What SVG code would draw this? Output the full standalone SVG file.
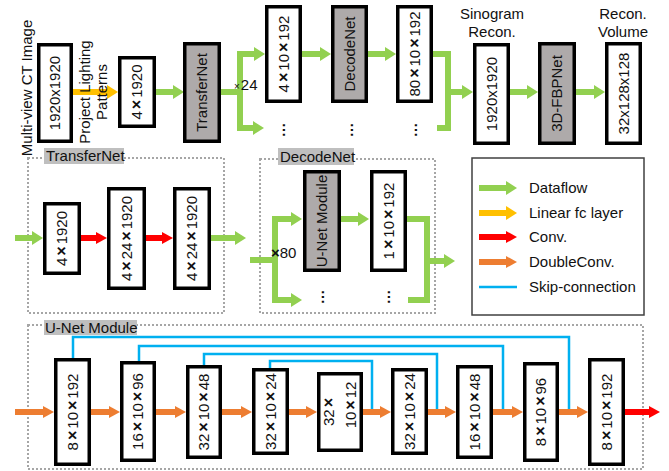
<svg xmlns="http://www.w3.org/2000/svg" width="669" height="471" viewBox="0 0 669 471">
  <style>
    .t { font-family: "Liberation Sans", Arial, sans-serif; font-size: 15px; fill: #111; text-anchor: middle; }
    .l { font-family: "Liberation Sans", Arial, sans-serif; font-size: 15px; fill: #111; }
    .x { font-weight: bold; font-size: 16px; }
    .box { fill: #fff; stroke: #000; stroke-width: 3.5; }
    .gbox { fill: #aeaaaa; stroke: #000; stroke-width: 3.5; }
    .frame { fill: none; stroke: #a6a6a6; stroke-width: 2; stroke-dasharray: 2 2; }
    .tag { fill: #bfbfbf; }
    .g { fill: none; stroke: #92d050; stroke-width: 6; stroke-linejoin: miter; }
    .y { fill: none; stroke: #ffc000; stroke-width: 6; }
    .r { fill: none; stroke: #ff0000; stroke-width: 6; }
    .o { fill: none; stroke: #ed7d31; stroke-width: 6; }
    .b { fill: none; stroke: #00b0f0; stroke-width: 2.5; }
    .dots { font-family: "Liberation Sans", Arial, sans-serif; font-size: 15px; font-weight: bold; fill: #111; text-anchor: middle; }
  </style>
  <defs>
    <marker id="hg" markerUnits="userSpaceOnUse" markerWidth="12" markerHeight="14" refX="0" refY="7" orient="auto"><path d="M0,0 L11,7 L0,14 z" fill="#92d050"/></marker>
    <marker id="hy" markerUnits="userSpaceOnUse" markerWidth="12" markerHeight="14" refX="0" refY="7" orient="auto"><path d="M0,0 L11,7 L0,14 z" fill="#ffc000"/></marker>
    <marker id="hr" markerUnits="userSpaceOnUse" markerWidth="12" markerHeight="14" refX="0" refY="7" orient="auto"><path d="M0,1 L11,7 L0,13 z" fill="#ff0000"/></marker>
    <marker id="ho" markerUnits="userSpaceOnUse" markerWidth="12" markerHeight="14" refX="0" refY="7" orient="auto"><path d="M0,1 L11,7 L0,13 z" fill="#ed7d31"/></marker>
  </defs>

  <!-- group frames -->
  <g id="frames">
    <rect class="frame" x="28" y="158" width="196" height="155"/>
    <rect class="frame" x="260" y="159" width="175" height="154"/>
    <rect class="frame" x="28" y="325" width="615" height="144"/>
    <rect class="tag" x="44" y="148" width="80" height="16"/>
    <text class="l" x="46" y="161">TransferNet</text>
    <rect class="tag" x="278" y="148" width="76" height="17"/>
    <text class="l" x="280" y="162">DecodeNet</text>
    <rect class="tag" x="44" y="320" width="93" height="15"/>
    <text class="l" x="45" y="333">U-Net Module</text>
  </g>

  <!-- connectors -->
  <g id="connectors">
    <path class="y" d="M73,92 H107" marker-end="url(#hy)"/>
    <path class="g" d="M156,92 H173" marker-end="url(#hg)"/>
    <path class="g" d="M221,92 H240"/>
    <path class="g" d="M240,51 V131"/>
    <path class="g" d="M240,54 H254" marker-end="url(#hg)"/>
    <path class="g" d="M240,128 H253" marker-end="url(#hg)"/>
    <path class="g" d="M302,54 H320" marker-end="url(#hg)"/>
    <path class="g" d="M368,54 H385" marker-end="url(#hg)"/>
    <path class="g" d="M433,54 H448 V128 H437"/>
    <path class="g" d="M448,92 H462" marker-end="url(#hg)"/>
    <path class="g" d="M510,92 H527" marker-end="url(#hg)"/>
    <path class="g" d="M576,92 H594" marker-end="url(#hg)"/>

    <path class="g" d="M15,238 H32" marker-end="url(#hg)"/>
    <path class="r" d="M81,238 H96" marker-end="url(#hr)"/>
    <path class="r" d="M146,238 H162" marker-end="url(#hr)"/>
    <path class="g" d="M211,238 H235" marker-end="url(#hg)"/>
    <path class="g" d="M250,260 H275"/>
    <path class="g" d="M275,216 V303"/>
    <path class="g" d="M275,219 H291" marker-end="url(#hg)"/>
    <path class="g" d="M275,300 H291" marker-end="url(#hg)"/>
    <path class="g" d="M341,219 H358" marker-end="url(#hg)"/>
    <path class="g" d="M407,219 H427 V300 H408"/>
    <path class="g" d="M427,261 H444" marker-end="url(#hg)"/>

    <path class="b" d="M73,358 V337 H569 V412"/>
    <path class="b" d="M139,361 V346 H503 V412"/>
    <path class="b" d="M204,365 V354 H437 V412"/>
    <path class="b" d="M270,368 V361 H372 V412"/>

    <path class="o" d="M15,412 H43" marker-end="url(#ho)"/>
    <path class="o" d="M91,412 H109" marker-end="url(#ho)"/>
    <path class="o" d="M156,412 H175" marker-end="url(#ho)"/>
    <path class="o" d="M222,412 H241" marker-end="url(#ho)"/>
    <path class="o" d="M289,412 H306" marker-end="url(#ho)"/>
    <path class="o" d="M363,412 H380" marker-end="url(#ho)"/>
    <path class="o" d="M428,412 H445" marker-end="url(#ho)"/>
    <path class="o" d="M493,412 H512" marker-end="url(#ho)"/>
    <path class="o" d="M559,412 H577" marker-end="url(#ho)"/>
    <path class="r" d="M625,412 H649" marker-end="url(#hr)"/>
  </g>

  <!-- free labels -->
  <g id="labels">
    <text class="t" transform="translate(27,88) rotate(-90)" dy="5">Multi-view CT Image</text>
    <text class="t" transform="translate(85,92) rotate(-90)" dy="5">Project Lighting</text>
    <text class="t" transform="translate(102,92) rotate(-90)" dy="5">Patterns</text>
    <text class="t" x="492" y="19">Sinogram</text>
    <text class="t" x="492" y="37">Recon.</text>
    <text class="t" x="623" y="19">Recon.</text>
    <text class="t" x="623" y="37">Volume</text>
    <text class="l" x="234" y="90"><tspan font-size="10">×</tspan><tspan dx="1">24</tspan></text>
    <text class="l" x="271" y="258"><tspan font-weight="bold">×</tspan>80</text>
  </g>

  <!-- top pipeline -->
  <g id="ct-image">
    <rect class="box" x="38.75" y="44.75" width="32.5" height="96.5"/>
    <text class="t" transform="translate(55,93) rotate(-90)" dy="5">1920x1920</text>
  </g>
  <g id="patterns">
    <rect class="box" x="119.75" y="57.75" width="34.5" height="68.5"/>
    <text class="t" transform="translate(137,92) rotate(-90)" dy="5">4<tspan class="x" dx="2">×</tspan><tspan dx="2">1920</tspan></text>
  </g>
  <g id="transfernet">
    <rect class="gbox" x="184.75" y="43.75" width="34.5" height="97.5"/>
    <text class="t" transform="translate(202,92.5) rotate(-90)" dy="5">TransferNet</text>
  </g>
  <g id="feat-4x10x192">
    <rect class="box" x="266.75" y="6.75" width="33.5" height="94.5"/>
    <text class="t" transform="translate(283.5,54) rotate(-90)" dy="5">4<tspan class="x" dx="2">×</tspan><tspan dx="2">10</tspan><tspan class="x" dx="2">×</tspan><tspan dx="2">192</tspan></text>
  </g>
  <g id="decodenet">
    <rect class="gbox" x="332.75" y="6.75" width="33.5" height="94.5"/>
    <text class="t" transform="translate(349.5,54) rotate(-90)" dy="5">DecodeNet</text>
  </g>
  <g id="feat-80x10x192">
    <rect class="box" x="397.75" y="6.75" width="33.5" height="94.5"/>
    <text class="t" transform="translate(414.5,54) rotate(-90)" dy="5">80<tspan class="x" dx="2">×</tspan><tspan dx="2">10</tspan><tspan class="x" dx="2">×</tspan><tspan dx="2">192</tspan></text>
  </g>
  <g id="top-dots">
    <text class="dots" transform="translate(285,130) rotate(-90)">…</text>
    <text class="dots" transform="translate(353,130) rotate(-90)">…</text>
    <text class="dots" transform="translate(417,130) rotate(-90)">…</text>
  </g>
  <g id="sinogram">
    <rect class="box" x="474.75" y="44.75" width="33.5" height="98.5"/>
    <text class="t" transform="translate(491.5,94) rotate(-90)" dy="5">1920x1920</text>
  </g>
  <g id="fbpnet">
    <rect class="gbox" x="539.75" y="43.75" width="34.5" height="99.5"/>
    <text class="t" transform="translate(557,93.5) rotate(-90)" dy="5">3D-FBPNet</text>
  </g>
  <g id="volume">
    <rect class="box" x="606.75" y="43.75" width="33.5" height="99.5"/>
    <text class="t" transform="translate(623.5,93.5) rotate(-90)" dy="5">32x128x128</text>
  </g>

  <!-- TransferNet detail -->
  <g id="tn-in">
    <rect class="box" x="44.75" y="203.75" width="34.5" height="69.5"/>
    <text class="t" transform="translate(62,238.5) rotate(-90)" dy="5">4<tspan class="x" dx="2">×</tspan><tspan dx="2">1920</tspan></text>
  </g>
  <g id="tn-conv1">
    <rect class="box" x="108.75" y="188.75" width="35.5" height="99.5"/>
    <text class="t" transform="translate(126.5,238.5) rotate(-90)" dy="5">4<tspan class="x" dx="2">×</tspan><tspan dx="2">24</tspan><tspan class="x" dx="2">×</tspan><tspan dx="2">1920</tspan></text>
  </g>
  <g id="tn-conv2">
    <rect class="box" x="174.75" y="188.75" width="34.5" height="99.5"/>
    <text class="t" transform="translate(192,238.5) rotate(-90)" dy="5">4<tspan class="x" dx="2">×</tspan><tspan dx="2">24</tspan><tspan class="x" dx="2">×</tspan><tspan dx="2">1920</tspan></text>
  </g>

  <!-- DecodeNet detail -->
  <g id="dn-unet">
    <rect class="gbox" x="304.75" y="171.75" width="34.5" height="98.5"/>
    <text class="t" transform="translate(322,221) rotate(-90)" dy="5">U-Net Module</text>
  </g>
  <g id="dn-out">
    <rect class="box" x="371.75" y="171.75" width="33.5" height="98.5"/>
    <text class="t" transform="translate(388.5,221) rotate(-90)" dy="5">1<tspan class="x" dx="2">×</tspan><tspan dx="2">10</tspan><tspan class="x" dx="2">×</tspan><tspan dx="2">192</tspan></text>
  </g>
  <g id="mid-dots">
    <text class="dots" transform="translate(324,297) rotate(-90)">…</text>
    <text class="dots" transform="translate(390,297) rotate(-90)">…</text>
  </g>

  <!-- legend -->
  <g id="legend">
    <rect x="472" y="158" width="172" height="157" fill="#fff" stroke="#404040" stroke-width="1.5"/>
    <path class="g" d="M479,188 H506" marker-end="url(#hg)"/>
    <path class="y" d="M479,213 H506" marker-end="url(#hy)"/>
    <path class="r" d="M479,237 H506" marker-end="url(#hr)"/>
    <path class="o" d="M479,262 H506" marker-end="url(#ho)"/>
    <path class="b" d="M479,287 H517"/>
    <text class="l" x="529" y="193">Dataflow</text>
    <text class="l" x="529" y="218">Linear fc layer</text>
    <text class="l" x="529" y="242">Conv.</text>
    <text class="l" x="529" y="267">DoubleConv.</text>
    <text class="l" x="529" y="292">Skip-connection</text>
  </g>

  <!-- U-Net detail -->
  <g id="u-enc1">
    <rect class="box" x="55.75" y="359.75" width="33.5" height="104.5"/>
    <text class="t" transform="translate(72.5,412) rotate(-90)" dy="5">8<tspan class="x" dx="2">×</tspan><tspan dx="2">10</tspan><tspan class="x" dx="2">×</tspan><tspan dx="2">192</tspan></text>
  </g>
  <g id="u-enc2">
    <rect class="box" x="121.75" y="362.75" width="32.5" height="97.5"/>
    <text class="t" transform="translate(138,411.5) rotate(-90)" dy="5">16<tspan class="x" dx="2">×</tspan><tspan dx="2">10</tspan><tspan class="x" dx="2">×</tspan><tspan dx="2">96</tspan></text>
  </g>
  <g id="u-enc3">
    <rect class="box" x="187.75" y="366.75" width="32.5" height="90.5"/>
    <text class="t" transform="translate(204,412) rotate(-90)" dy="5">32<tspan class="x" dx="2">×</tspan><tspan dx="2">10</tspan><tspan class="x" dx="2">×</tspan><tspan dx="2">48</tspan></text>
  </g>
  <g id="u-enc4">
    <rect class="box" x="253.75" y="369.75" width="33.5" height="83.5"/>
    <text class="t" transform="translate(270.5,411.5) rotate(-90)" dy="5">32<tspan class="x" dx="2">×</tspan><tspan dx="2">10</tspan><tspan class="x" dx="2">×</tspan><tspan dx="2">24</tspan></text>
  </g>
  <g id="u-bottleneck">
    <rect class="box" x="318.75" y="373.75" width="42.5" height="76.5"/>
    <text class="t" transform="translate(329,412) rotate(-90)" dy="5">32<tspan class="x" dx="2">×</tspan></text>
    <text class="t" transform="translate(351,405) rotate(-90)" dy="5">10<tspan class="x" dx="2">×</tspan><tspan dx="2">12</tspan></text>
  </g>
  <g id="u-dec4">
    <rect class="box" x="392.75" y="369.75" width="33.5" height="83.5"/>
    <text class="t" transform="translate(409.5,411.5) rotate(-90)" dy="5">32<tspan class="x" dx="2">×</tspan><tspan dx="2">10</tspan><tspan class="x" dx="2">×</tspan><tspan dx="2">24</tspan></text>
  </g>
  <g id="u-dec3">
    <rect class="box" x="457.75" y="366.75" width="33.5" height="90.5"/>
    <text class="t" transform="translate(474.5,412) rotate(-90)" dy="5">16<tspan class="x" dx="2">×</tspan><tspan dx="2">10</tspan><tspan class="x" dx="2">×</tspan><tspan dx="2">48</tspan></text>
  </g>
  <g id="u-dec2">
    <rect class="box" x="524.75" y="363.75" width="32.5" height="96.5"/>
    <text class="t" transform="translate(541,412) rotate(-90)" dy="5">8<tspan class="x" dx="2">×</tspan><tspan dx="2">10</tspan><tspan class="x" dx="2">×</tspan><tspan dx="2">96</tspan></text>
  </g>
  <g id="u-dec1">
    <rect class="box" x="589.75" y="359.75" width="33.5" height="104.5"/>
    <text class="t" transform="translate(606.5,412) rotate(-90)" dy="5">8<tspan class="x" dx="2">×</tspan><tspan dx="2">10</tspan><tspan class="x" dx="2">×</tspan><tspan dx="2">192</tspan></text>
  </g>
</svg>
